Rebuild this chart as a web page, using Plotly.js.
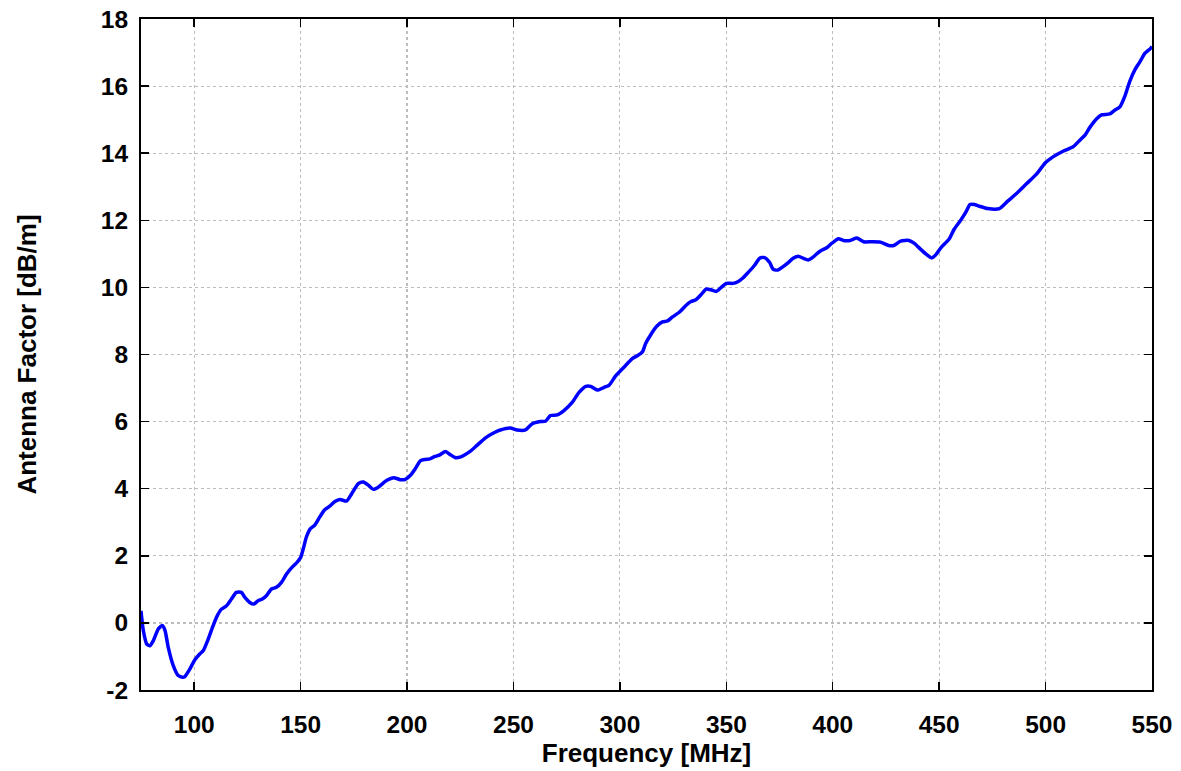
<!DOCTYPE html>
<html>
<head>
<meta charset="utf-8">
<script src="https://cdn.plot.ly/plotly-3.0.1.min.js"></script>
<style>html,body{margin:0;padding:0;background:#fff;}#chart{width:1181px;height:771px;}</style>
</head>
<body>
<div id="chart"></div>
<script>
const freqMHz = [75,76.1,77.7,79.2,80.8,83.1,85,86.3,87.8,90.2,92.5,94.5,95.6,98,100.3,102.7,104.2,106.6,108.9,110.8,112.8,115.2,117.5,119.8,122.2,123.8,126.1,128,130,132,133.9,136.3,138.6,141,143.3,145.6,148.5,150,151.5,152.7,154.6,156.6,159,161.4,163.7,166.1,168.5,171.6,174,177.1,179.5,181.9,184.2,186.6,190.5,193.7,196.8,199.2,201.6,204,206.2,208.3,210.7,213.1,215.4,218.1,220.2,222.5,224.9,227.2,229.6,232.8,236.7,240.6,243.8,248.5,251.7,255.6,258.7,262.7,265,267.4,270.6,273.7,277.7,280.8,284,286.3,289.4,292.6,295,298,301.9,305.8,308.2,310.6,312.1,314.5,317.3,320,322.4,324.7,327.9,331,333.4,335.7,338.1,340.5,342.8,345.2,347.6,350,353.1,355.4,357.8,360.2,363.3,365.7,368,370.4,372,374.3,376.7,379.1,381.4,383.8,386.1,388.5,390.9,394,397.2,399.5,402.7,405,408.2,411.3,414.5,418.4,422.4,426.3,428.7,431.9,435.8,438.2,441.4,443.7,446.5,448.4,450.8,454.7,457.1,460.2,462.6,464.5,466.5,468.9,472.8,478.3,482.2,486.2,490.9,495.6,500,503.5,508.2,512.9,516,518.4,520.8,523.9,526.3,530.2,532.5,534.9,537.3,539.6,542,544.3,546.7,549.1,550];
const antennaFactor = [0.36,-0.23,-0.63,-0.68,-0.53,-0.18,-0.08,-0.23,-0.73,-1.28,-1.57,-1.62,-1.60,-1.37,-1.10,-0.92,-0.83,-0.48,-0.08,0.21,0.41,0.51,0.71,0.91,0.91,0.76,0.61,0.56,0.66,0.71,0.81,1.01,1.06,1.21,1.45,1.63,1.82,1.95,2.27,2.56,2.81,2.91,3.16,3.38,3.48,3.62,3.68,3.63,3.85,4.15,4.20,4.10,3.98,4.05,4.25,4.33,4.27,4.28,4.40,4.61,4.83,4.87,4.89,4.96,5.01,5.11,5.02,4.93,4.94,5.01,5.11,5.29,5.51,5.66,5.75,5.81,5.75,5.75,5.93,6.00,6.01,6.18,6.20,6.33,6.58,6.87,7.05,7.05,6.94,7.02,7.09,7.36,7.62,7.88,7.96,8.08,8.33,8.59,8.84,8.97,9.00,9.12,9.26,9.46,9.58,9.63,9.78,9.95,9.93,9.88,10.00,10.12,10.12,10.17,10.28,10.44,10.66,10.87,10.89,10.74,10.54,10.52,10.62,10.74,10.87,10.93,10.87,10.82,10.91,11.08,11.18,11.31,11.45,11.40,11.40,11.47,11.36,11.36,11.35,11.25,11.25,11.38,11.40,11.32,11.13,11.00,10.88,10.97,11.18,11.44,11.74,12.01,12.25,12.47,12.47,12.42,12.35,12.35,12.57,12.79,13.08,13.37,13.72,13.89,14.06,14.19,14.38,14.53,14.77,15.02,15.14,15.17,15.28,15.38,15.71,16.15,16.49,16.72,16.98,17.11,17.18];
const xTicks = [100,150,200,250,300,350,400,450,500,550];
const yTicks = [-2,0,2,4,6,8,10,12,14,16,18];
const xTitle = 'Frequency [MHz]';
const yTitle = 'Antenna Factor [dB/m]';

const fam = 'Liberation Sans, Arial, sans-serif';
const tickFont = {family: fam, size: 24.5, color: '#000', weight: 'bold'};
const titleFont = {family: fam, size: 26, color: '#000', weight: 'bold'};
const axisCommon = {
  showline: true, linecolor: '#000', linewidth: 2, mirror: 'ticks',
  ticks: 'inside', ticklen: 8, tickwidth: 1.5, tickcolor: '#000',
  showgrid: true, gridcolor: '#bdbdbd', gridwidth: 1.2, griddash: 'dot',
  zeroline: false, tickfont: tickFont
};

const data = [{
  x: freqMHz, y: antennaFactor, type: 'scatter', mode: 'lines',
  line: {color: '#0000ff', width: 3.5, shape: 'spline', smoothing: 0.6},
  hoverinfo: 'x+y'
}];

const layout = {
  width: 1181, height: 771,
  margin: {l: 141, r: 29, t: 19, b: 81},
  paper_bgcolor: '#fff', plot_bgcolor: '#fff',
  showlegend: false,
  font: {family: fam, size: 24, color: '#000'},
  xaxis: Object.assign({}, axisCommon, {
    range: [75, 550], tickvals: xTicks, ticktext: xTicks.map(String),
    ticklabelstandoff: 12,
    title: {text: xTitle, font: titleFont, standoff: 6}
  }),
  yaxis: Object.assign({}, axisCommon, {
    range: [-2, 18], tickvals: yTicks, ticktext: yTicks.map(String),
    ticklabelstandoff: 6,
    title: {text: yTitle, font: titleFont, standoff: 57}
  })
};

Plotly.newPlot('chart', data, layout, {displayModeBar: false, staticPlot: true});
</script>
</body>
</html>
